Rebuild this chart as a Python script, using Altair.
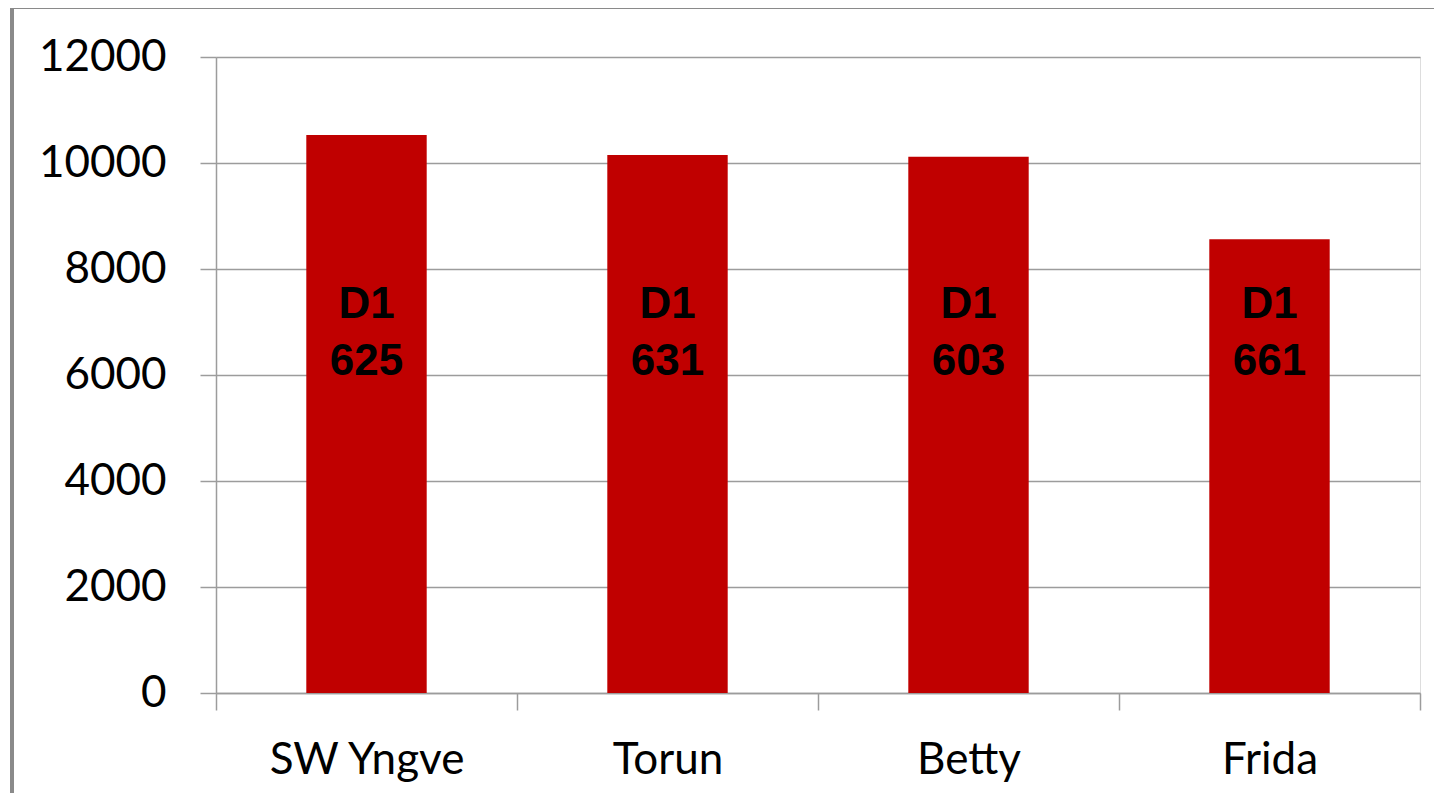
import altair as alt
import pandas as pd

categories = ["SW Yngve", "Torun", "Betty", "Frida"]
values = [10530, 10150, 10120, 8560]
line1 = ["D1", "D1", "D1", "D1"]
line2 = ["625", "631", "603", "661"]
label_level = 7330

df = pd.DataFrame({
    "cat": categories,
    "value": values,
    "label": [f"{a}\n{b}" for a, b in zip(line1, line2)],
    "ly": [label_level] * len(categories),
})

GRID = "#9c9c9c"

x = alt.X(
    "cat:N",
    sort=categories,
    title=None,
    scale=alt.Scale(paddingInner=0, paddingOuter=0),
    axis=alt.Axis(
        labelAngle=0,
        labelFont="Lato",
        labelFontSize=44,
        labelColor="#000000",
        labelPadding=28,
        labelBaseline="top",
        labelLimit=0,
        tickBand="extent",
        tickSize=17,
        tickColor=GRID,
        tickWidth=1.5,
        domainColor=GRID,
        domainWidth=1.5,
        grid=False,
    ),
)

y = alt.Y(
    "value:Q",
    title=None,
    scale=alt.Scale(domain=[0, 12000], nice=False, zero=True),
    axis=alt.Axis(
        values=[0, 2000, 4000, 6000, 8000, 10000, 12000],
        format="d",
        labelFont="Lato",
        labelFontSize=44,
        labelColor="#000000",
        labelPadding=34,
        tickSize=16,
        tickColor=GRID,
        tickWidth=1.5,
        domainColor=GRID,
        domainWidth=1.5,
        grid=True,
        gridColor=GRID,
        gridWidth=1.5,
    ),
)

bars = alt.Chart(df).mark_bar(color="#C00000", width={"band": 0.4}).encode(x=x, y=y)

labels = alt.Chart(df).mark_text(
    font="Liberation Sans",
    fontWeight="bold",
    fontSize=44,
    color="#000000",
    lineBreak="\n",
    lineHeight=57,
    baseline="middle",
    align="center",
).encode(
    x=alt.X("cat:N", sort=categories),
    y=alt.Y("ly:Q"),
    text="label:N",
)

frame_top = alt.Chart(df).mark_rule(color="#8a8a8a", strokeWidth=3.5, clip=False).encode(
    x=alt.value(-206), x2=alt.value(1240), y=alt.value(-50), y2=alt.value(-50)
)
frame_left = alt.Chart(df).mark_rule(color="#8a8a8a", strokeWidth=3.5, clip=False).encode(
    x=alt.value(-204), x2=alt.value(-204), y=alt.value(-51), y2=alt.value(760)
)

chart = alt.layer(bars, labels, frame_top, frame_left).properties(
    width=1204,
    height=636,
    autosize=alt.AutoSizeParams(type="none"),
    padding={"left": 208, "top": 49, "right": 14, "bottom": 100},
).configure_view(stroke=None).configure(background="#ffffff")

chart.save("out.html", embed_options={"renderer": "svg", "actions": False})
